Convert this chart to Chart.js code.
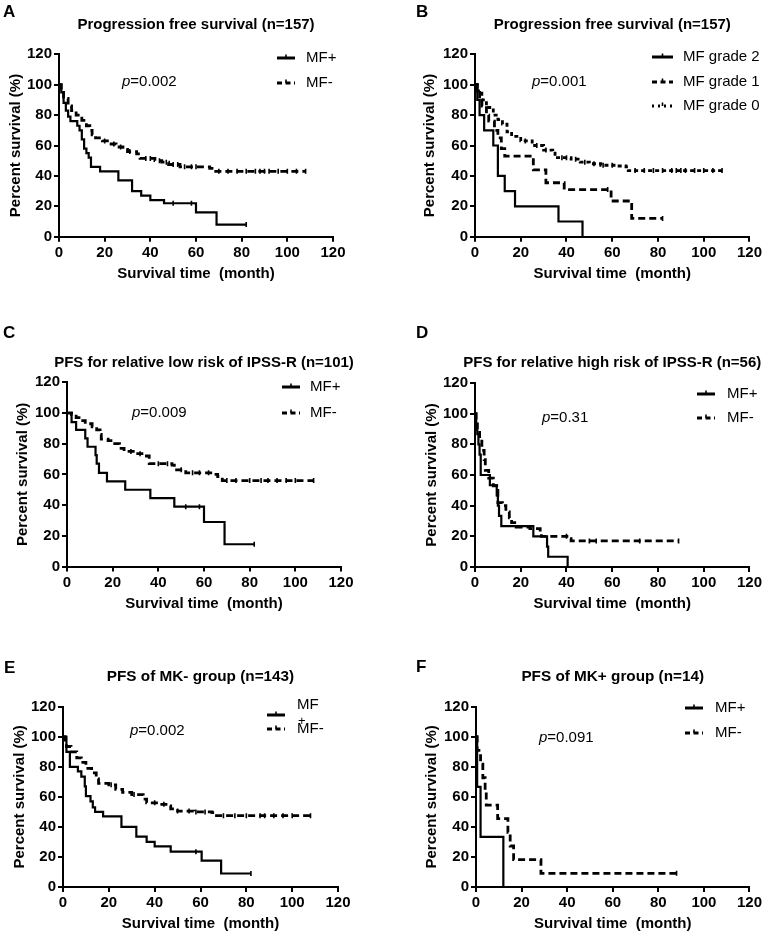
<!DOCTYPE html>
<html><head><meta charset="utf-8">
<script src="https://cdn.jsdelivr.net/npm/chart.js@4.4.0/dist/chart.umd.min.js"></script>
<style>
html,body{margin:0;padding:0;background:#fff;width:764px;height:936px;overflow:hidden}
canvas{position:absolute}
</style></head><body>
<canvas id="cA"></canvas><canvas id="cB"></canvas><canvas id="cC"></canvas>
<canvas id="cD"></canvas><canvas id="cE"></canvas><canvas id="cF"></canvas>
<script>
// ---------- tick labels ----------
const xTicks = [0, 20, 40, 60, 80, 100, 120];
const yTicks = [0, 20, 40, 60, 80, 100, 120];

// ---------- Panel A : PFS (n=157) ----------
const A_plus_t  = [0,1,2,3,4,5,8,9,10,11,12,13,14,18,26,32,36,40,46,60,69,82];
const A_plus_s  = [100,95,88,83,79,76,73,70,64,58,55,52,46,43,37,30,27,24,22,16,8,8];
const A_plus_cens = [50,58,82];
const A_minus_t = [0,1,2,4,5.5,7.5,10,12,13.5,14.5,16,19,22,25,28,30,34,35.5,42,45,48,53,62,66,68,108];
const A_minus_s = [100,95,91,86,83,80,76.5,73,70,67,65,63,61,59,57.5,56,54.5,51.5,50,49,47.5,46,46,45,43,43];
const A_minus_cens = [20,24,27,31,38,40,44,47,50,52,55,58,60,70,74,78,82,86,88,90,92,96,100,104,108];

// ---------- Panel B : PFS by MF grade ----------
const B_g2_t = [0,1,2,4,8,10,13,17.5,36.5,47];
const B_g2_s = [100,90,80,70,60,40,30,20,10,0];
const B_g2_cens = [];
const B_g1_t = [0,1,2,3,5,6,8.5,10,11.5,13,25.5,31,39,59.5,68.5,82];
const B_g1_s = [100,95,90,86,80,76,70,65,58,53,44,35.5,31,23.5,12,12];
const B_g1_cens = [58,82];
const B_g0_t = [0,1,3,5,8,10,12,14,16,20,25,30,34,35,42,46,50,55,62,66,67,108];
const B_g0_s = [100,96,90,85,80,77,74,69,66,63,60,57,56,52,51,49,48,47,46.5,46,43.5,43.5];
const B_g0_cens = [22,27,31,38,40,44,48,52,56,60,70,74,78,82,86,88,90,92,96,100,104,108];

// ---------- Panel C : low risk IPSS-R ----------
const C_plus_t  = [0,2,4,8,9,12.5,13,14,17.5,25.5,36.5,47,60,69,82];
const C_plus_s  = [100,94,89,83.5,78,72.5,67,61,55.5,50,44.5,39,29,14.5,14.5];
const C_plus_cens = [52,58,82];
const C_minus_t = [0,2,4,6,8,11,13,14.5,15,18,20,23,25,30,34,36,46,47,52,64,66,68,108];
const C_minus_s = [100,99,97,95,93,91,89,86,83,82,80,77,75,73.5,72,67,66,63,61,60,58.5,56,56];
const C_minus_cens = [28,32,40,44,50,55,58,62,70,74,80,85,88,92,96,100,108];

// ---------- Panel D : high risk IPSS-R ----------
const D_plus_t  = [0,0.5,1,1.5,2,2.5,6.5,9.5,10,10.5,11.5,25.5,31.5,32,40.5];
const D_plus_s  = [100,93.3,86.7,80,73.3,60,53.3,46.7,40,33.3,26.7,20,13.3,6.7,0];
const D_plus_cens = [];
const D_minus_t = [0,0.5,1,2,3,4,4.5,6,8,9.5,10,12,13.5,15,16,18,24,28.5,29,41,42,89];
const D_minus_s = [100,95,90,82,76,70,63,58,53,50,42,40,36,32,29,26,25,23,20,18.5,17,17];
const D_minus_cens = [40,50,53,72,89];

// ---------- Panel E : MK- group ----------
const E_plus_t  = [0,1.5,3,6.5,8,9.5,10,12,13,14,17.5,25.5,32,36.5,40,47,60.5,69,82];
const E_plus_s  = [100,90,80,77,73.5,67,60.5,57,53,50,47,40,33.5,30,27,23.5,17.5,9,9];
const E_plus_cens = [58,82];
const E_minus_t = [0,1,1.5,3.5,6,8,10,12.5,14.5,15.5,20,23,26,30,35,36.5,42,46,47,50,57,65,66,109];
const E_minus_s = [100,96,93.5,90,86,83,79,76,72,69,68,65,63,61.5,58.5,56,55,54,52,50.5,50,49.5,47.5,47.5];
const E_minus_cens = [21,31,40,44,50,55,58,62,70,75,80,86,88,92,96,100,108];

// ---------- Panel F : MK+ group ----------
const F_plus_t  = [0,0.5,2,12];
const F_plus_s  = [100,66.7,33.3,0];
const F_plus_cens = [];
const F_minus_t = [0,0.5,2,3,4,4.5,9.5,14,15,16.5,28.5,88];
const F_minus_s = [100,90.9,81.8,72.7,63.6,54.5,45.5,36.4,27.3,18.2,9.1,9.1];
const F_minus_cens = [88];

// ---------- texts ----------
const panelLetters = ['A','B','C','D','E','F'];
const panelTitles = [
  'Progression free survival (n=157)',
  'Progression free survival (n=157)',
  'PFS for relative low risk of IPSS-R (n=101)',
  'PFS for relative high risk of IPSS-R (n=56)',
  'PFS of MK- group (n=143)',
  'PFS of MK+ group (n=14)'
];
const pValues = ['0.002','0.001','0.009','0.31','0.002','0.091'];

const FONT = "'Liberation Sans', Arial, Helvetica, sans-serif";
const SOLID = [], DASH = [7,4], DOT = [4,3];

const panels = [
  {id:'cA', left:0, top:0, w:382, h:300, yW:59, yTitlePad:6.5, tSize:15, titleY:25, padT:54.3, padR:49, padB:17.3,
   letter:[3,12], p:[122,82], leg:{x1:277,x2:295,tx:306,rows:[58,83]},
   series:[{label:'MF+', t:A_plus_t, s:A_plus_s, c:A_plus_cens, dash:SOLID, bw:2.2},
           {label:'MF-', t:A_minus_t, s:A_minus_s, c:A_minus_cens, dash:DASH, bw:2.8}]},
  {id:'cB', left:382, top:0, w:382, h:300, yW:93, yTitlePad:39, tSize:15, titleY:25, padT:54.3, padR:14, padB:17.3,
   letter:[416,12], p:[532,82], leg:{x1:652,x2:673,tx:683,rows:[57,82,106]},
   series:[{label:'MF grade 2', t:B_g2_t, s:B_g2_s, c:B_g2_cens, dash:SOLID, bw:2.2},
           {label:'MF grade 1', t:B_g1_t, s:B_g1_s, c:B_g1_cens, dash:DASH, bw:2.8},
           {label:'MF grade 0', t:B_g0_t, s:B_g0_s, c:B_g0_cens, dash:DOT, bw:2.8}]},
  {id:'cC', left:0, top:300, w:382, h:320, yW:67, yTitlePad:14, tSize:15, titleY:363, padT:82.3, padR:41, padB:7.5,
   letter:[3,333], p:[132,413], leg:{x1:282,x2:300,tx:310,rows:[387,413]},
   series:[{label:'MF+', t:C_plus_t, s:C_plus_s, c:C_plus_cens, dash:SOLID, bw:2.2},
           {label:'MF-', t:C_minus_t, s:C_minus_s, c:C_minus_cens, dash:DASH, bw:2.8}]},
  {id:'cD', left:382, top:300, w:382, h:320, yW:93, yTitlePad:41, tSize:15, titleY:363, padT:83, padR:14, padB:7,
   letter:[416,333], p:[542,418], leg:{x1:697,x2:715,tx:727,rows:[394,418]},
   series:[{label:'MF+', t:D_plus_t, s:D_plus_s, c:D_plus_cens, dash:SOLID, bw:2.2},
           {label:'MF-', t:D_minus_t, s:D_minus_s, c:D_minus_cens, dash:DASH, bw:2.8}]},
  {id:'cE', left:0, top:620, w:382, h:316, yW:63, yTitlePad:11, tSize:15.3, titleY:677, padT:86.7, padR:44, padB:3,
   letter:[4,668], p:[130,731], leg:{x1:267,x2:285,tx:297,rows:[715,729], textRows:[705,729], wrap:[298,721]},
   series:[{label:'MF', t:E_plus_t, s:E_plus_s, c:E_plus_cens, dash:SOLID, bw:2.2},
           {label:'MF-', t:E_minus_t, s:E_minus_s, c:E_minus_cens, dash:DASH, bw:2.8}]},
  {id:'cF', left:382, top:620, w:382, h:316, yW:94, yTitlePad:41, tSize:15.3, titleY:677, padT:86.7, padR:14, padB:3,
   letter:[416,667], p:[539,738], leg:{x1:685,x2:703,tx:715,rows:[708,733]},
   series:[{label:'MF+', t:F_plus_t, s:F_plus_s, c:F_plus_cens, dash:SOLID, bw:2.2},
           {label:'MF-', t:F_minus_t, s:F_minus_s, c:F_minus_cens, dash:DASH, bw:2.8}]}
];

// survival value of a step curve at time c (value of last step at or before c)
function stepAt(t, s, c) {
  let v = s[0];
  for (let i = 0; i < t.length; i++) { if (t[i] <= c) v = s[i]; }
  return v;
}

function makeChart(cfg, idx) {
  const cv = document.getElementById(cfg.id);
  cv.width = cfg.w; cv.height = cfg.h;
  cv.style.left = cfg.left + 'px'; cv.style.top = cfg.top + 'px';
  cv.style.width = cfg.w + 'px'; cv.style.height = cfg.h + 'px';

  const datasets = [];
  cfg.series.forEach(s => {
    datasets.push({
      label: s.label,
      data: s.t.map((t, i) => ({x: t, y: s.s[i]})),
      stepped: true,
      borderColor: '#000',
      borderWidth: s.bw,
      borderDash: s.dash,
      borderCapStyle: 'butt',
      pointRadius: 0,
      fill: false
    });
    if (s.c.length) {
      datasets.push({
        label: s.label + ' censored',
        data: s.c.map(c => ({x: c, y: stepAt(s.t, s.s, c)})),
        showLine: false,
        pointStyle: 'line',
        rotation: 90,
        pointRadius: 2.5,
        pointBorderWidth: 1.6,
        pointBorderColor: '#000',
        borderColor: '#000',
        backgroundColor: '#000'
      });
    }
  });

  const annot = {
    id: 'annot' + idx,
    afterDraw(chart) {
      const ctx = chart.ctx;
      const ox = cfg.left, oy = cfg.top;
      const ca = chart.chartArea;
      ctx.save();
      ctx.fillStyle = '#000';
      ctx.strokeStyle = '#000';
      ctx.textBaseline = 'middle';
      ctx.textAlign = 'center';
      ctx.font = 'bold ' + cfg.tSize + 'px ' + FONT;
      ctx.fillText(panelTitles[idx], (ca.left + ca.right) / 2, cfg.titleY - oy);
      ctx.textAlign = 'left';
      ctx.font = 'bold 17px ' + FONT;
      ctx.fillText(panelLetters[idx], cfg.letter[0] - ox, cfg.letter[1] - oy);
      ctx.font = 'italic 15px ' + FONT;
      ctx.fillText('p', cfg.p[0] - ox, cfg.p[1] - oy);
      const pw = ctx.measureText('p').width;
      ctx.font = '15px ' + FONT;
      ctx.fillText('=' + pValues[idx], cfg.p[0] - ox + pw, cfg.p[1] - oy);
      const L = cfg.leg;
      cfg.series.forEach((s, i) => {
        const y = L.rows[i] - oy;
        ctx.lineWidth = 3;
        if (s.dash === DOT) ctx.setLineDash([2, 4]);
        else if (s.dash.length) ctx.setLineDash([5, 3.5]);
        else ctx.setLineDash([]);
        ctx.beginPath();
        ctx.moveTo(L.x1 - ox, y);
        ctx.lineTo(L.x2 - ox, y);
        ctx.stroke();
        ctx.setLineDash([]);
        ctx.lineWidth = 1.6;
        ctx.beginPath();
        const mx = (L.x1 + L.x2) / 2 - ox;
        ctx.moveTo(mx, y);
        ctx.lineTo(mx, y - 3.5);
        ctx.stroke();
        const ty = (L.textRows ? L.textRows[i] : L.rows[i]) - oy;
        ctx.font = '15px ' + FONT;
        ctx.fillText(s.label, L.tx - ox, ty);
      });
      if (L.wrap) {
        ctx.font = '13px ' + FONT;
        ctx.fillText('+', L.wrap[0] - ox, L.wrap[1] - oy);
      }
      ctx.restore();
    }
  };

  const tickFont = {family: FONT, size: 15, weight: 'bold'};
  const axisTitleFont = {family: FONT, size: 15, weight: 'bold', lineHeight: 1.2};

  new Chart(cv, {
    type: 'line',
    data: {datasets},
    options: {
      responsive: false,
      animation: false,
      devicePixelRatio: 1,
      layout: {padding: {left: 0, top: cfg.padT, right: cfg.padR, bottom: cfg.padB}},
      plugins: {
        legend: {display: false},
        tooltip: {enabled: false},
        title: {display: false}
      },
      scales: {
        x: {
          type: 'linear', min: 0, max: 120,
          afterBuildTicks: s => { s.ticks = xTicks.map(v => ({value: v})); },
          afterFit: s => { s.height = 46; },
          grid: {display: true, drawOnChartArea: false, drawTicks: true, tickLength: 5, color: '#000', lineWidth: 2},
          border: {display: true, color: '#000', width: 2},
          ticks: {color: '#000', font: tickFont, padding: 2, maxRotation: 0, autoSkip: false},
          title: {display: true, text: 'Survival time  (month)', color: '#000', font: axisTitleFont, padding: {top: 0, bottom: 0}}
        },
        y: {
          type: 'linear', min: 0, max: 120,
          afterBuildTicks: s => { s.ticks = yTicks.map(v => ({value: v})); },
          afterFit: s => { s.width = cfg.yW; },
          grid: {display: true, drawOnChartArea: false, drawTicks: true, tickLength: 5, color: '#000', lineWidth: 2},
          border: {display: true, color: '#000', width: 2},
          ticks: {color: '#000', font: tickFont, padding: 2, autoSkip: false},
          title: {display: true, text: 'Percent survival (%)', color: '#000', font: axisTitleFont, padding: {top: cfg.yTitlePad, bottom: 0}}
        }
      }
    },
    plugins: [annot]
  });
}

panels.forEach((p, i) => makeChart(p, i));
</script>
</body></html>
